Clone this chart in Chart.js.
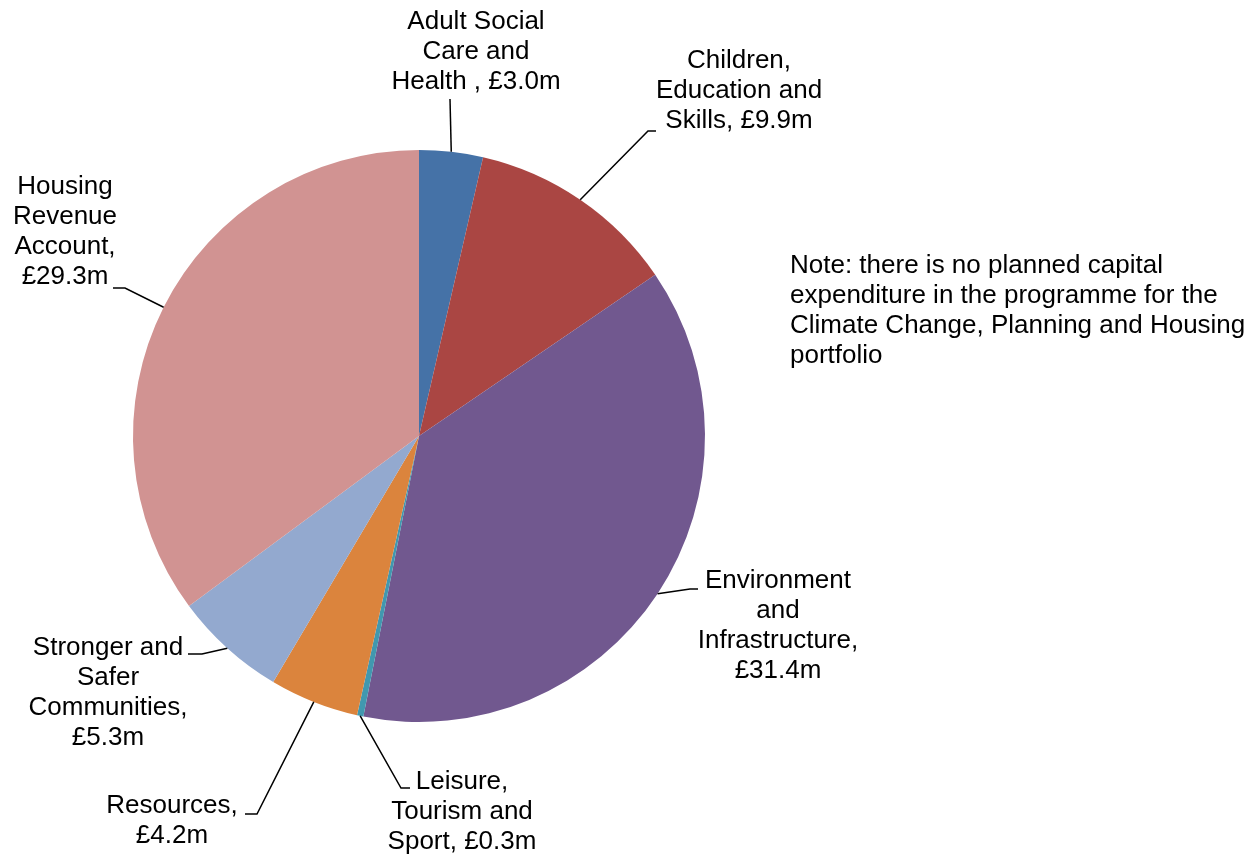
<!DOCTYPE html>
<html>
<head>
<meta charset="utf-8">
<script src="https://cdn.jsdelivr.net/npm/chart.js@4/dist/chart.umd.min.js"></script>
<style>
  html, body { margin: 0; padding: 0; background: #fff; }
  #wrap { position: relative; width: 1258px; height: 854px; }
</style>
</head>
<body>
<div id="wrap"><canvas id="grafico"></canvas></div>
<script>
// datos
const categorias = [
  ['Adult Social', 'Care and', 'Health , £3.0m'],
  ['Children,', 'Education and', 'Skills, £9.9m'],
  ['Environment', 'and', 'Infrastructure,', '£31.4m'],
  ['Leisure,', 'Tourism and', 'Sport, £0.3m'],
  ['Resources,', '£4.2m'],
  ['Stronger and', 'Safer', 'Communities,', '£5.3m'],
  ['Housing', 'Revenue', 'Account,', '£29.3m']
];
const valores = [3.0, 9.9, 31.4, 0.3, 4.2, 5.3, 29.3];
const colores = ['#4572A7', '#AA4643', '#71588F', '#4198AF', '#DB843D', '#93A9CF', '#D19392'];

const nota = [
  'Note: there is no planned capital',
  'expenditure in the programme for the',
  'Climate Change, Planning and Housing',
  'portfolio'
];

// posicion de las etiquetas (codo, fin de linea, centro del texto, primera linea)
const etiquetas = [
  { codo: [450, 99],  fin: [450, 99],  x: 476, y: 22 },
  { codo: [648, 131], fin: [656, 131], x: 739, y: 61 },
  { codo: [690, 589], fin: [698, 589], x: 778, y: 581 },
  { codo: [401, 788], fin: [410, 788], x: 462, y: 782 },
  { codo: [257, 814], fin: [245, 814], x: 172, y: 806 },
  { codo: [202, 654], fin: [188, 654], x: 108, y: 648 },
  { codo: [125, 288], fin: [113, 288], x: 65,  y: 187 }
];

const FUENTE = '26px "Liberation Sans", Arial, sans-serif';
const ALTO_LINEA = 30;

const pluginEtiquetas = {
  id: 'etiquetas',
  afterDraw(chart) {
    const ctx = chart.ctx;
    const arcos = chart.getDatasetMeta(0).data;
    ctx.save();
    ctx.font = FUENTE;
    ctx.fillStyle = '#000';
    ctx.strokeStyle = '#000';
    ctx.lineWidth = 1.5;
    ctx.textAlign = 'center';
    ctx.textBaseline = 'middle';

    arcos.forEach((arco, i) => {
      const p = arco.getProps(['x', 'y', 'startAngle', 'endAngle', 'outerRadius'], true);
      const e = etiquetas[i];
      const ang = (p.startAngle + p.endAngle) / 2;
      const x0 = p.x + Math.cos(ang) * p.outerRadius;
      const y0 = p.y + Math.sin(ang) * p.outerRadius;

      ctx.beginPath();
      ctx.moveTo(x0, y0);
      ctx.lineTo(e.codo[0], e.codo[1]);
      ctx.lineTo(e.fin[0], e.fin[1]);
      ctx.stroke();

      categorias[i].forEach((linea, j) => {
        ctx.fillText(linea, e.x, e.y + j * ALTO_LINEA);
      });
    });

    // nota a la derecha
    ctx.textAlign = 'left';
    nota.forEach((linea, j) => {
      ctx.fillText(linea, 790, 266 + j * ALTO_LINEA);
    });
    ctx.restore();
  }
};

new Chart(document.getElementById('grafico'), {
  type: 'pie',
  data: {
    labels: categorias.map(c => c.join(' ')),
    datasets: [{
      data: valores,
      backgroundColor: colores,
      borderWidth: 0
    }]
  },
  options: {
    responsive: true,
    maintainAspectRatio: false,
    animation: false,
    layout: { padding: { left: 133, right: 553, top: 150, bottom: 132 } },
    plugins: {
      legend: { display: false },
      tooltip: { enabled: false }
    }
  },
  plugins: [pluginEtiquetas]
});
</script>
</body>
</html>
